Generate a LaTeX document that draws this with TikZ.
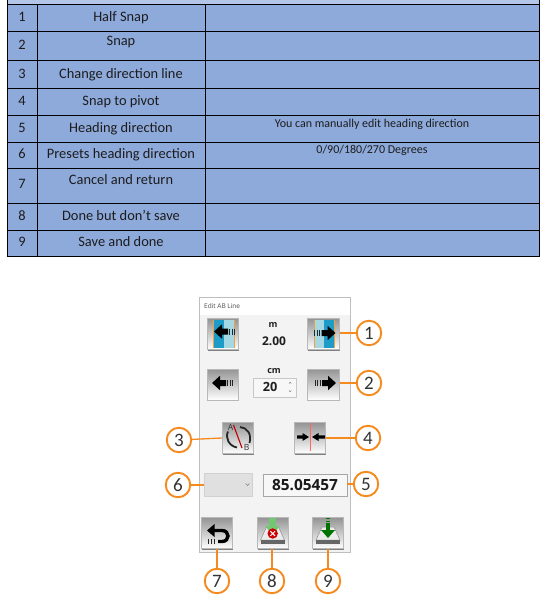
\documentclass[tikz,border=0pt]{standalone}
\usepackage{fontspec}
\setmainfont{Carlito}
\newfontfamily\uifont{Open Sans}
\usetikzlibrary{arrows.meta}
\definecolor{tbody}{HTML}{8EAADB}
\definecolor{thead}{HTML}{B4C6E7}
\definecolor{oran}{HTML}{F58A1F}
\definecolor{panelbg}{HTML}{F3F3F3}
\definecolor{panelln}{HTML}{BEBEBE}
\definecolor{darkblue}{HTML}{1C9CC6}
\definecolor{lightblue}{HTML}{A6D8E4}
\definecolor{iconorange}{HTML}{F0A040}
\definecolor{txt}{HTML}{1C1C1C}
\tikzset{
  tline/.style={line width=1pt,draw=black},
  celltext/.style={font=\fontsize{14.4}{16}\selectfont,text=txt,inner sep=0pt,text height=9pt,text depth=1pt},
  notetext/.style={font=\fontsize{12}{14}\selectfont,text=txt,inner sep=0pt,text height=8pt,text depth=1pt},
  btn/.style={rectangle,minimum width=31.5pt,minimum height=31pt,inner sep=0pt,draw=black!28,line width=0.6pt,
    preaction={fill=black!50,transform canvas={xshift=.7pt,yshift=-1.3pt}},
    top color=black!42,bottom color=white},
  callout/.style={circle,draw=oran,line width=1.9pt,fill=white,minimum size=24.5pt,inner sep=0pt,
    font=\fontsize{19}{20}\selectfont,text=black!80},
  lead/.style={draw=oran,line width=1.3pt},
  uitext/.style={font=\uifont\bfseries\fontsize{#1}{#1}\selectfont,text=black!88,inner sep=0pt},
  stripe/.style={draw=black!85,line width=1.1pt}
}
% block arrow: tip at (#1,#2), direction #3 (1 = tip left, -1 = tip right)
\newcommand{\blockarrow}[3]{%
  \begin{scope}[shift={(#1,#2)},xscale=#3]
    \fill[black] (0,0) -- (8,-7.2) -- (8,-3) -- (14,-3) -- (14,3) -- (8,3) -- (8,7.2) -- cycle;
    \draw[stripe] (15.6,-3) -- (15.6,3) (18.2,-3) -- (18.2,3) (20.8,-3) -- (20.8,3);
  \end{scope}}
\newcommand{\tray}[2]{%
  \begin{scope}[shift={(#1,#2)}]
    \fill[black!8,draw=black!45,line width=.5pt] (-6,-7) -- (6,-7) -- (12,6) -- (-12,6) -- cycle;
    \fill[black!60] (-12,6) rectangle (12,9.5);
  \end{scope}}
\begin{document}
\begin{tikzpicture}[x=1pt,y=-1pt]
\useasboundingbox (0,0) rectangle (547,612);
\fill[white] (0,0) rectangle (547,612);
% ---- table
\fill[thead] (7,0) rectangle (539.5,4.5);
\fill[tbody] (7,4.5) rectangle (539.5,256);
\draw[tline] (7,0) -- (7,256) (37.5,4.5) -- (37.5,256) (205.5,4.5) -- (205.5,256) (539.5,0) -- (539.5,256);
\foreach \yy in {4.5,31.3,61,88.3,115.4,142.7,168.3,203.3,230.3,256}
  \draw[tline] (6.5,\yy) -- (540,\yy);
\foreach \n/\yy/\lab/\ly in {1/18/Half Snap/18,2/46/Snap/41.5,3/74.6/Change direction line/74.6,
    4/101.6/Snap to pivot/101.6,5/129/Heading direction/128.7,6/154.3/Presets heading direction/154.3,
    7/185/Cancel and return/180.7,8/216.7/Done but don’t save/216.7,9/242.3/Save and done/242.3}{
  \node[celltext] (num\n) at (22,\yy) {\n};
  \node[celltext] (lab\n) at (121,\ly) {\lab};
}
\node[notetext] (noteA) at (372,124) {You can manually edit heading direction};
\node[notetext] (noteB) at (372,150.5) {0/90/180/270 Degrees};
% ---- panel
\fill[panelbg] (199,297) rectangle (350,552);
\fill[white] (199,297) rectangle (350,315);
\draw[panelln,line width=.9pt] (199,297) rectangle (350,552);
\node[font=\uifont\fontsize{6.5}{7}\selectfont,text=black!70,inner sep=0pt,anchor=west] (title) at (204,306.5) {Edit AB Line};
% ---- buttons
\node[btn] (b1l) at (223,334) {};
\node[btn] (b1r) at (323.5,334) {};
\node[btn] (b2l) at (223,384.5) {};
\node[btn] (b2r) at (323.5,384.5) {};
\node[btn] (b3) at (238,438) {};
\node[btn] (b4) at (310,438) {};
\node[btn] (b7) at (217,533) {};
\node[btn] (b8) at (273,533) {};
\node[btn] (b9) at (328,533) {};
% button 1 icons
\fill[darkblue] (213.5,320) rectangle (224,347.5);
\fill[lightblue] (224,320) rectangle (234,347.5);
\draw[iconorange,line width=1pt] (213.5,320) -- (213.5,347.5) (234,320) -- (234,347.5);
\fill[lightblue] (314,320) rectangle (324,347.5);
\fill[darkblue] (324,320) rectangle (334,347.5);
\draw[iconorange,line width=1pt] (314,320) -- (314,347.5) (334,320) -- (334,347.5);
\blockarrow{214}{331.5}{1}
\blockarrow{335.5}{333}{-1}
\blockarrow{212}{383}{1}
\blockarrow{336}{383}{-1}
% button 3 icon
\draw[black!85,line width=1.8pt] (228,431.5) .. controls (225,438) and (229,446) .. (237,447.5);
\draw[black!85,line width=1.8pt] (240,427) .. controls (247,427.5) and (252,434) .. (249.5,443);
\draw[red!75!black,line width=1.1pt] (233.5,425) -- (242,448);
\node[font=\uifont\fontsize{8.5}{9}\selectfont,inner sep=0pt,text=black!80] (icA) at (230.5,427) {A};
\node[font=\uifont\fontsize{8.5}{9}\selectfont,inner sep=0pt,text=black!80] (icB) at (246.5,447.5) {B};
% button 4 icon
\draw[red!60,line width=1pt] (310.3,423) -- (310.3,451);
\fill[black] (309,437) -- (302.5,433) -- (302.5,435.4) -- (297,435.4) -- (297,438.6) -- (302.5,438.6) -- (302.5,441) -- cycle;
\fill[black] (312,437) -- (318.5,433) -- (318.5,435.4) -- (325,435.4) -- (325,438.6) -- (318.5,438.6) -- (318.5,441) -- cycle;
% button 7 icon
\fill[black] (207,530.5) -- (214.5,524) -- (214.5,537) -- cycle;
\draw[black,line width=3.4pt] (213.5,530.5) -- (222,530.5) .. controls (230,530.5) and (230,541.5) .. (222,541.5) -- (218,541.5);
\draw[stripe] (208.5,539) -- (208.5,544) (211.5,539) -- (211.5,544) (214.5,539) -- (214.5,544);
% button 8 icon
\tray{272.5}{534}
\fill[green!60!black!55!white] (269,517.5) rectangle (276,527);
\fill[green!60!black!55!white] (265,526) -- (280,526) -- (272.5,535) -- cycle;
\fill[red!80!black] (272.7,533.5) circle (5.2);
\draw[white,line width=1pt] (270.4,531.2) -- (275,535.8) (275,531.2) -- (270.4,535.8);
% button 9 icon
\tray{328}{534}
\fill[green!45!black] (326,523) rectangle (330,532);
\fill[green!45!black] (321,530) -- (335,530) -- (328,538) -- cycle;
\draw[green!45!black,line width=1pt] (326,518.5) -- (330,518.5) (326,521) -- (330,521);
% ---- centre texts
\node[uitext=9] (mlab) at (273,325) {m};
\node[uitext=12] (mval) at (274,341) {2.00};
\node[uitext=9] (cmlab) at (274,371) {cm};
\node[rectangle,draw=black!22,fill=black!3,line width=.6pt,minimum width=43pt,minimum height=19pt,inner sep=0pt] (spin) at (274.5,387.5) {};
\node[uitext=12.7] (spinval) at (270,387) {20};
\draw[black!55,line width=.4pt] (289,383.5) -- (290.2,382.3) -- (291.4,383.5) (289,390.5) -- (290.2,391.7) -- (291.4,390.5);
\node[rectangle,fill=black!12,draw=black!18,line width=.6pt,minimum width=48pt,minimum height=23pt,inner sep=0pt] (combo) at (228,484.5) {};
\draw[black!50,line width=.5pt] (245.5,483.5) -- (247.5,485.5) -- (249.5,483.5);
\node[rectangle,fill=black!3,draw=black!35,line width=.7pt,minimum width=84pt,minimum height=22pt,inner sep=0pt,uitext=15.4,text=black!90] (head) at (305,485) {85.05457};
% ---- callouts
\node[callout] (c1) at (369,333) {1};
\node[callout] (c2) at (369,383) {2};
\node[callout] (c3) at (179,440) {3};
\node[callout] (c4) at (368,438) {4};
\node[callout] (c5) at (366,484) {5};
\node[callout] (c6) at (178,485) {6};
\node[callout] (c7) at (217,581) {7};
\node[callout] (c8) at (272,581) {8};
\node[callout] (c9) at (328,581) {9};
% ---- connectors
\draw[lead] (c1) -- (c1 -| b1r.east);
\draw[lead] (c2) -- (c2 -| b2r.east);
\draw[lead] (c3) -- (b3.west);
\draw[lead] (c4) -- (c4 -| b4.east);
\draw[lead] (c5) -- (c5 -| head.east);
\draw[lead] (c6) -- (c6 -| combo.west);
\draw[lead] (c7) -- (c7 |- b7.south);
\draw[lead] (c8) -- (c8 |- b8.south);
\draw[lead] (c9) -- (c9 |- b9.south);
\end{tikzpicture}
\end{document}
